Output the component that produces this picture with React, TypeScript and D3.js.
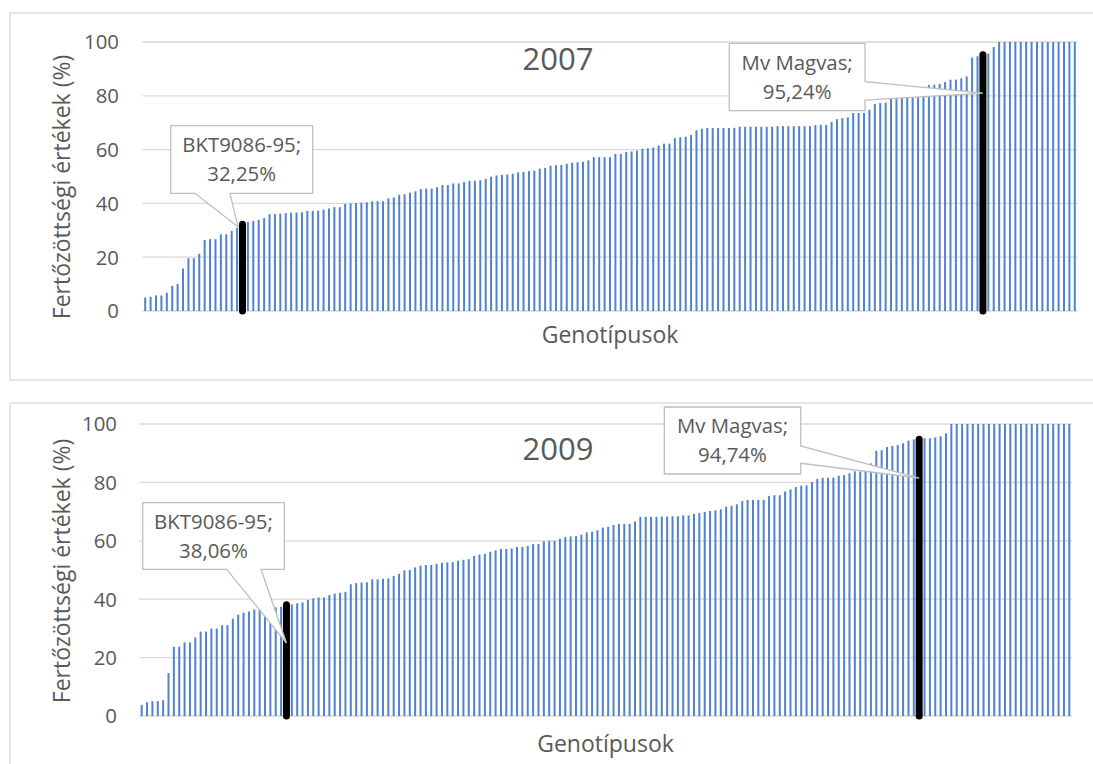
import React from "react";
import * as d3 from "d3";

// ---------- DATA ----------
const yTicks = [0, 20, 40, 60, 80, 100];
const chartTitles = ["2007", "2009"];
const xAxisTitle = "Genotípusok";
const yAxisTitle = "Fertőzöttségi értékek (%)";

// 2007 infection values (%) sorted ascending, one per genotype
const values2007 = [
  5.0, 5.3, 5.8, 5.8, 6.8, 9.3, 10.0, 15.8, 19.6, 19.6, 21.3, 26.4, 26.7, 26.7, 28.5, 28.5, 29.8, 30.9, 32.25, 33.1,
  33.5, 33.9, 34.5, 36.0, 36.0, 36.2, 36.4, 36.5, 36.6, 36.7, 37.2, 37.2, 37.3, 37.7, 38.1, 38.6, 38.6, 39.8, 40.0, 40.1,
  40.3, 40.4, 40.8,
  40.8, 40.8, 41.9, 42.2, 43.2, 43.4, 44.0, 44.5, 45.3, 45.5, 45.5, 46.0, 46.8, 46.8, 47.4, 47.4, 47.9, 48.4, 48.4, 48.6,
  49.1, 49.9, 50.4, 50.6, 50.7, 51.0, 51.5, 51.7, 52.0, 52.1, 52.9, 53.2, 54.0, 54.2, 54.3, 54.7, 55.1, 55.3, 55.5, 56.0,
  57.2, 57.2, 57.2,
  57.2, 58.4, 58.4, 59.1, 59.3, 59.6, 60.3, 60.5, 60.8, 61.5, 62.2, 62.2, 64.3, 64.6, 64.8, 65.4, 67.2, 67.7, 68.0, 68.0,
  68.0, 68.0, 68.0, 68.1, 68.5, 68.5, 68.5, 68.5, 68.5, 68.5, 68.5, 68.7, 68.7, 68.7, 68.7, 68.7, 68.7, 68.7, 69.1, 69.2,
  69.2, 70.3, 71.3, 71.7, 72.0, 73.6,
  73.6, 73.6, 74.8, 77.0, 77.3, 77.5, 78.8, 79.0, 79.2, 79.3, 79.4, 79.5, 79.8, 84.0, 84.1, 84.4, 85.1, 86.0, 86.0, 86.5,
  87.2, 94.2, 94.7, 95.24, 95.7, 98.1,
  100, 100, 100, 100, 100, 100, 100, 100, 100, 100, 100, 100, 100, 100, 100,
];

// 2009 infection values (%) sorted ascending, one per genotype
const values2009 = [
  3.8, 4.7, 5.1, 5.1, 5.4, 14.7, 23.7, 23.7, 25.2, 25.2, 26.9, 28.9, 28.9, 29.9, 29.9, 31.1, 31.1, 33.3, 34.7, 35.4,
  35.8, 36.5, 36.5, 36.8, 37.0, 37.2, 37.4, 38.06, 38.2, 38.6, 38.9, 39.7, 40.3, 40.6, 40.6, 41.4, 41.9, 42.2, 42.5, 45.1,
  45.5, 45.7, 45.8,
  46.8, 46.8, 47.0, 47.1, 47.9, 48.7, 49.9, 50.0, 50.9, 51.5, 51.7, 51.7, 52.1, 52.5, 52.6, 52.7, 53.2, 53.5, 53.7, 54.8,
  55.3, 55.5, 56.2, 56.7, 57.2, 57.2, 57.4, 57.9, 57.9, 58.2, 58.9, 58.9, 59.8, 60.0, 60.0, 60.7, 61.3, 61.5, 61.6, 62.1,
  62.9, 63.1, 63.6, 64.5, 64.8,
  65.4, 65.8, 65.8, 65.8, 66.6, 68.2, 68.2, 68.2, 68.2, 68.3, 68.3, 68.4, 68.4, 68.7, 68.7, 69.2, 69.5, 69.9, 70.2, 70.4,
  70.8, 71.7, 72.0, 72.5, 73.6, 74.0, 74.0, 74.0, 74.0, 75.3, 75.6, 75.6, 76.9, 77.6, 78.4, 78.9, 79.0, 80.1, 81.2, 81.6,
  81.6, 81.6, 82.3, 82.5, 83.1, 83.8,
  83.7, 83.8, 86.5, 90.8, 91.0, 92.1, 92.5, 92.8, 93.4, 94.3, 94.7, 94.74, 95.1, 95.1, 95.4, 95.8, 96.8,
  100, 100, 100, 100, 100, 100, 100, 100, 100, 100, 100, 100, 100, 100, 100, 100, 100, 100, 100, 100, 100, 100, 100,
];

const highlightNames = ["BKT9086-95", "Mv Magvas"];
const highlightIdx2007 = [18, 155];
const highlightIdx2009 = [27, 145];
const highlightLabels2007 = ["32,25%", "95,24%"];
const highlightLabels2009 = ["38,06%", "94,74%"];

// ---------- STYLE / LAYOUT ----------
const FONT = "'Open Sans', 'Noto Sans', sans-serif";
const TEXT = "#595959";
const GRID = "#d9d9d9";
const BAR = "#5083cc";

type Callout = {
  box: [number, number, number, number]; // left, top, right, bottom
  side: "bottom" | "right";
  w1: number;
  w2: number;
  tipDx: number;
  tipValue: number;
};

type Panel = {
  title: string;
  values: number[];
  hIdx: number[];
  hLabels: string[];
  frame: { x: number; y: number; w: number; h: number };
  plot: { left: number; right: number; top: number; bottom: number };
  tickRight: number;
  yTitleX: number;
  yTitleY: number;
  xTitleY: number;
  titleX: number;
  titleY: number;
  callouts: Callout[];
};

const panels: Panel[] = [
  {
    title: chartTitles[0],
    values: values2007,
    hIdx: highlightIdx2007,
    hLabels: highlightLabels2007,
    frame: { x: 10, y: 13, w: 1100, h: 367 },
    plot: { left: 142.5, right: 1077.5, top: 42, bottom: 311 },
    tickRight: 119,
    yTitleX: 70,
    yTitleY: 187,
    xTitleY: 343,
    titleX: 558,
    titleY: 70,
    callouts: [
      { box: [170.7, 125.7, 312.7, 193.3], side: "bottom", w1: 195, w2: 230, tipDx: -4.5, tipValue: 31.3 },
      { box: [729.3, 43.3, 865, 110.7], side: "right", w1: 81.7, w2: 100, tipDx: 0, tipValue: 81 },
    ],
  },
  {
    title: chartTitles[1],
    values: values2009,
    hIdx: highlightIdx2009,
    hLabels: highlightLabels2009,
    frame: { x: 10, y: 403, w: 1100, h: 400 },
    plot: { left: 139, right: 1072, top: 424, bottom: 716 },
    tickRight: 117,
    yTitleX: 70,
    yTitleY: 571,
    xTitleY: 752,
    titleX: 558,
    titleY: 460,
    callouts: [
      { box: [142.7, 502.7, 284.3, 569.3], side: "bottom", w1: 226.7, w2: 261, tipDx: 0, tipValue: 25 },
      { box: [664.3, 407, 800.7, 474], side: "right", w1: 446, w2: 463.3, tipDx: 0, tipValue: 81.5 },
    ],
  },
];

function calloutPath(c: Callout, tx: number, ty: number): string {
  const [l, t, r, b] = c.box;
  if (c.side === "bottom") {
    return `M${l},${t}H${r}V${b}H${c.w2}L${tx},${ty}L${c.w1},${b}H${l}Z`;
  }
  return `M${l},${t}H${r}V${c.w1}L${tx},${ty}L${r},${c.w2}V${b}H${l}Z`;
}

function ChartPanel({ p }: { p: Panel }) {
  const idx = d3.range(p.values.length);
  const x = d3.scaleBand<number>().domain(idx).range([p.plot.left, p.plot.right]).padding(0);
  const y = d3.scaleLinear().domain([0, 100]).range([p.plot.bottom, p.plot.top]);
  const bw = x.bandwidth();
  const barW = 2;
  const cx = (i: number) => (x(i) as number) + bw / 2;

  return (
    <g>
      <rect x={p.frame.x} y={p.frame.y} width={p.frame.w} height={p.frame.h} fill="#fff" stroke={GRID} strokeWidth={1.3} />
      {yTicks.map((t) => (
        <line key={"g" + t} x1={p.plot.left} x2={p.plot.right} y1={y(t)} y2={y(t)} stroke={GRID} strokeWidth={1.3} />
      ))}
      {yTicks.map((t) => (
        <text key={"t" + t} x={p.tickRight} y={y(t)} dy="0.36em" textAnchor="end" fontSize={20.4} fill={TEXT} fontFamily={FONT}>
          {t}
        </text>
      ))}
      {p.values.map((v, i) =>
        p.hIdx.includes(i) ? null : (
          <rect key={i} x={cx(i) - barW / 2} y={y(v)} width={barW} height={y(0) - y(v)} fill={BAR} />
        )
      )}
      {p.hIdx.map((i) => (
        <line key={"h" + i} x1={cx(i)} x2={cx(i)} y1={y(0)} y2={y(p.values[i])} stroke="#000" strokeWidth={7} strokeLinecap="round" />
      ))}
      <text x={p.titleX} y={p.titleY} textAnchor="middle" fontSize={31} fill={TEXT} fontFamily={FONT}>
        {p.title}
      </text>
      <text x={(p.plot.left + p.plot.right) / 2} y={p.xTitleY} textAnchor="middle" fontSize={23} fill={TEXT} fontFamily={FONT}>
        {xAxisTitle}
      </text>
      <text
        transform={`translate(${p.yTitleX},${p.yTitleY}) rotate(-90)`}
        textAnchor="middle"
        fontSize={23}
        fill={TEXT}
        fontFamily={FONT}
      >
        {yAxisTitle}
      </text>
      {p.callouts.map((c, k) => {
        const i = p.hIdx[k];
        const tx = cx(i) + c.tipDx;
        const ty = y(c.tipValue);
        const [l, t, r, b] = c.box;
        const mx = (l + r) / 2;
        const my = (t + b) / 2;
        return (
          <g key={"c" + k}>
            <path d={calloutPath(c, tx, ty)} fill="#fff" stroke="#bfbfbf" strokeWidth={1.3} />
            <text x={mx} y={my - 14.5} dy="0.36em" textAnchor="middle" fontSize={20.4} fill={TEXT} fontFamily={FONT}>
              {highlightNames[k]};
            </text>
            <text x={mx} y={my + 14.5} dy="0.36em" textAnchor="middle" fontSize={20.4} fill={TEXT} fontFamily={FONT}>
              {p.hLabels[k]}
            </text>
          </g>
        );
      })}
    </g>
  );
}

export default function App() {
  return (
    <svg
      width={1093}
      height={764}
      style={{ position: "absolute", left: 0, top: 0, background: "#fff" }}
      xmlns="http://www.w3.org/2000/svg"
    >
      <rect width={1093} height={764} fill="#fff" />
      {panels.map((p) => (
        <ChartPanel key={p.title} p={p} />
      ))}
    </svg>
  );
}
